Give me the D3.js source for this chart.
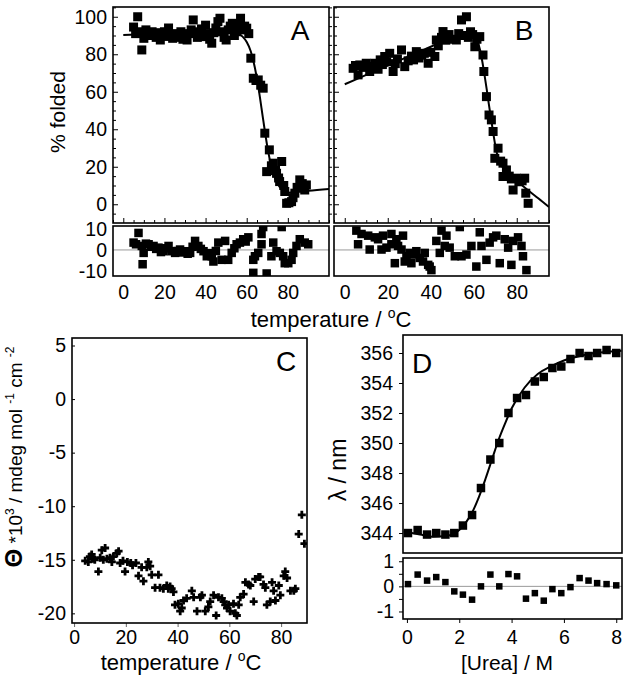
<!DOCTYPE html>
<html><head><meta charset="utf-8">
<script src="https://cdn.jsdelivr.net/npm/d3@7"></script>
<style>
body{margin:0;background:#fff}
</style></head><body>
<svg id="c" width="629" height="688"></svg>
<script>
// ---------- DATA ----------
// Panel A: % folded vs temperature
const aT = [5,6,7,8,9,10,11,12,13,14,15,16,17,18,19,20,21,22,23,24,25,26,27,28,29,30,31,32,33,34,35,36,37,38,39,40,41,42,43,44,45,46,47,48,49,50,51,52,53,54,55,56,57,58,59,60,61,62,63.2,64.5,65.6,66.8,68,68.8,69.7,71,72,72.9,74,74.5,75.5,76,77,78,78.5,79.4,80.5,81.8,82.5,83.4,84.5,85.8,87,88.2,89];
const aY = [94.5,91,100,92,82.3,88.5,93,91,90,92,90.5,89,91.5,87.6,90,92,89.5,94,90,88.5,91,89,90.5,92,88,89.5,87.6,91,93,98.3,92,89,90.5,93.5,89.4,95.5,91,88,85.9,91.5,94,97.4,99.2,92,89,87.6,93,95,96.5,90,92,96,99.2,93,95,93.9,91,77.9,67.2,66,66.3,63.5,61.9,37.9,17.4,29,20.5,21.9,18,16.5,14,12.1,22.8,10,6.8,0.5,0.8,1.4,3.5,5.9,9,13,11,7.6,10.3];
const aFitT = [0,20,40,50,55,58,60,62,64,66,68,70,72,74,76,78,80,85,90,100];
const aFitY = [90.3,91.1,91.9,92.1,91.3,89.4,86.5,81.5,72.7,60.1,45.1,30.9,20,13.1,9.2,7.3,6.2,6.6,7.2,8.2];
const aResT = [5,6.2,7.4,9,9.4,9.9,11,12.3,13.5,14.7,16,17.1,18.3,19.6,20.8,22,23.6,25.2,26.4,27.6,28.8,30,31.3,32.5,33.7,34.9,36.5,37.7,39,40.6,42,43,43.8,45,46.2,47.8,49.5,51,52.7,54,55.1,56.7,58.3,59.5,60.8,63.2,64,65.6,67.2,67.2,68,63.2,69.7,72,72.9,74.5,76.1,77,77.7,78.5,80.2,81.8,82.6,84.2,85.8,88.2,89.9];
const aRes  = [3.5,2.7,8.1,1.9,-6.8,-1.4,3,2.7,1.5,1.9,0.5,1.1,-1,-0.6,0.8,1.9,-0.6,-1.4,-0.5,0.2,-1.2,-0.6,-1.8,-1.4,1.5,4.3,1.9,0.5,-0.6,-3,-1.5,-3,-5.5,-0.5,3.5,-4.7,4.3,-4.7,-1.4,0.8,2.7,3.5,5.1,4,6,-4.7,-3,-1.4,2.7,7.6,10.9,-10.9,-11.2,-3,3.5,-0.6,-1.4,10.9,-3,-6.3,-6.3,-4.7,-1.4,1.9,5.1,3.5,2.7];

// Panel B
const bT = [3.9,5,6.2,7,8.5,10,11.6,13,14,15.5,16.5,17.5,18.6,19.5,20.9,22.5,23.5,24.5,26.4,27.9,29.5,31,32,33.3,34.5,35.8,37,38.8,40,41.9,42.6,43.5,45,45.7,47,48.5,50,51.9,53,54.3,55.5,56.6,57.5,58.5,59.5,60.5,61.5,62.8,64.3,64.7,65.9,67.1,68.2,69,69.8,71.3,72.5,73.6,73.6,75.2,76.5,77.5,78.3,79.8,81,82.5,83.7,84.2,85.3];
const bY = [72.5,74,69,74.3,73,75.2,70.8,73.5,75.2,72,77,74.5,78.8,76,80.5,70.8,75,77.5,82.3,73.4,76.5,79,77,81.4,78,79.5,80.5,75.2,81,78.8,87.6,84.5,89,92.1,87.5,90.5,88,87.6,91,98.3,90,100,89,92,90.5,84,88,89.4,79.6,70.8,57.4,47.6,45,38.8,24.5,29.9,23,21.9,14.8,18.3,15,13.5,7.6,13.9,12,12.5,13.9,5.9,0.5];
const bFitT = [0,10,20,30,40,50,55,58,60,61.5,63,64,65,66,67,68,69,70,71,72,73,75,78,80,83,86,90,95];
const bFitY = [64,69,74,79,84,89,91.2,91.6,90.5,87.5,82,76,69,61.5,53.5,46,38.5,31.5,26,22.5,20.5,18.5,15,12.8,9.6,6.8,3.2,-1.5];
const bResT = [5.4,6.2,7.8,10.9,11.6,14,15.5,17.1,17.8,19.4,21.7,21.7,23.3,24,24.8,26.4,27.1,27.9,28.7,30.2,31,31.8,33.3,34.9,36.4,37.2,38.8,39.5,40.3,42.6,44.2,45,46.5,47.3,48.8,51.2,53.5,54.3,56.6,58.9,61.2,62.8,63.6,65.9,67.4,69,70.5,72.1,74.4,76,77.5,78.3,80.6,82.2,82.9,84.5];
const bRes  = [9.2,2.7,7.6,6.8,0.2,6,5.1,0.2,6.8,1.1,7.6,2.7,-6.3,5.1,1.9,0.2,6.8,-5.5,-3,-1.4,-6.3,-2.2,-0.6,-3.8,-5.5,-1.4,-7.1,-7.9,-9.6,4.3,-1.4,9.2,1.9,6.8,1.1,-3,10.9,-3,-2.2,1.9,-7.9,8.4,1.9,-4.7,3.5,6,6.8,-6.3,5.1,1.1,-7.1,4.3,6,1.9,-3,-9.6];

// Panel C: ellipticity vs temperature
const cT = [4.3,5.5,6.1,6.8,7.4,8,9.4,10.1,10.7,11.3,12,12.7,13.9,14.6,15.2,16.5,17.2,17.8,18.9,19.7,20.6,21.9,22.6,23.9,24.9,26.1,26.8,28.1,28.7,29.4,30,31.3,32.6,33.2,34.5,35.8,36.4,37.1,37.7,38.4,39,40.3,41,41.6,42.3,43.5,45.5,46.2,47.5,48.8,49.4,50.7,51.9,52.6,53.9,54.9,55.8,57.1,57.8,58.4,59.1,59.7,60.3,61.6,62.3,62.9,63.6,64.2,65.5,66.2,67.4,68.1,69.4,70,71.3,71.9,73.2,73.9,74.5,75.8,76.5,77.1,77.8,79.1,79.7,81,81.6,82.3,83.6,84.9,85.5,86.8,88,89];
const cV = [-15.1,-15.2,-14.7,-14.5,-14.9,-15,-16.1,-14.8,-14.1,-15,-13.9,-14.9,-14.8,-15.2,-14.7,-14.4,-14.2,-15.3,-15.1,-16.1,-15.2,-15.3,-15.5,-15.3,-16.5,-15.7,-17,-15.7,-15.2,-15.6,-16.4,-17.6,-16.4,-17.6,-17.7,-17.4,-17.7,-17.5,-17.7,-18,-19.2,-19.1,-19.8,-19.5,-18.8,-18.6,-17.9,-18.5,-19.8,-18.5,-18.3,-19.8,-19.4,-18.9,-18.3,-20.2,-18.5,-18.6,-18.9,-19.2,-19.5,-19.2,-19.8,-19.1,-20,-20.2,-19.2,-18.5,-18.2,-17.1,-17.3,-17.4,-18.9,-16.8,-16.6,-16.6,-17.3,-17.6,-19.2,-18.9,-17.1,-17.9,-18.8,-17.4,-18.3,-16.5,-16.1,-16.7,-17.9,-17.9,-17.7,-12.6,-10.8,-13.5];

// Panel D: emission maximum vs urea
const dU = [0.04,0.41,0.77,1.12,1.47,1.81,2.14,2.49,2.83,3.19,3.53,3.88,4.21,4.55,4.89,5.23,5.56,5.9,6.25,6.6,6.94,7.27,7.63,8.0];
const dL = [344.0,344.2,343.9,344.0,343.9,344.0,344.5,345.2,347.0,348.9,350.0,352.0,353.0,353.2,354.1,354.4,355.0,355.1,355.6,356.0,355.8,356.0,356.2,356.0];
const dRes = [0.09,0.47,0.23,0.37,0.17,-0.2,-0.33,-0.53,0.0,0.47,0.0,0.49,0.4,-0.49,-0.27,-0.57,-0.11,-0.27,-0.03,0.33,0.23,0.13,0.09,0.04];
const dFitU = [-0.12,0.5,1,1.5,2,2.25,2.5,2.75,3,3.25,3.5,3.75,4,4.5,5,5.5,6,6.5,7,7.5,8.2];
const dFitL = [344.1,343.9,343.75,343.8,344.2,344.7,345.4,346.4,347.6,348.9,350.2,351.3,352.3,353.7,354.6,355.1,355.5,355.75,355.95,356.05,356.15];

// tick label sets
const tickTempAB = [0,20,40,60,80];
const tickPct = [0,20,40,60,80,100];
const tickResAB = [-10,0,10];
const tickTempC = [0,20,40,60,80];
const tickThetaC = [5,0,-5,-10,-15,-20];
const tickUrea = [0,2,4,6,8];
const tickLambda = [344,346,348,350,352,354,356];
const tickResD = [-1,0,1];

// ---------- DRAWING ----------
const FONT = '"Liberation Sans", Arial, Helvetica, sans-serif';
const FS = 19.5;
const svg = d3.select("#c");
const defs = svg.append("defs");
let clipN = 0;

function frame(x0, y0, x1, y1) {
  const id = "clip" + (clipN++);
  defs.append("clipPath").attr("id", id).append("rect")
    .attr("x", x0).attr("y", y0).attr("width", x1 - x0).attr("height", y1 - y0);
  return { id, draw: () => svg.append("rect").attr("x", x0).attr("y", y0)
    .attr("width", x1 - x0).attr("height", y1 - y0)
    .attr("fill", "none").attr("stroke", "#000").attr("stroke-width", 1.6) };
}

function ax(orient, scale, tx, ty, vals, size, labels, pad, color) {
  const gen = { left: d3.axisLeft, right: d3.axisRight, bottom: d3.axisBottom, top: d3.axisTop }[orient](scale)
    .tickValues(vals).tickSizeInner(size).tickSizeOuter(0).tickPadding(pad || 0)
    .tickFormat(labels ? (d => String(d)) : (() => ""));
  const g = svg.append("g").attr("transform", `translate(${tx},${ty})`).call(gen);
  g.select(".domain").remove();
  g.selectAll("line").attr("stroke", color || "#000").attr("stroke-width", 1);
  g.selectAll("text").attr("font-size", FS).attr("font-family", FONT).attr("fill", "#000");
  return g;
}

function squares(xs, ys, X, Y, s, clip) {
  svg.append("g").attr("clip-path", `url(#${clip})`)
    .selectAll("rect").data(d3.range(X.length)).join("rect")
    .attr("x", i => xs(X[i]) - s / 2).attr("y", i => ys(Y[i]) - s / 2)
    .attr("width", s).attr("height", s).attr("fill", "#000");
}

function fit(xs, ys, X, Y, clip) {
  const ln = d3.line().x(i => xs(X[i])).y(i => ys(Y[i])).curve(d3.curveMonotoneX);
  svg.append("path").attr("clip-path", `url(#${clip})`).attr("d", ln(d3.range(X.length)))
    .attr("fill", "none").attr("stroke", "#000").attr("stroke-width", 2);
}

function zero(xs, ys) {
  svg.append("line").attr("x1", xs.range()[0]).attr("x2", xs.range()[1])
    .attr("y1", ys(0)).attr("y2", ys(0)).attr("stroke", "#999").attr("stroke-width", 1);
}

function text(x, y, str, fs, anchor, rot) {
  const t = svg.append("text").attr("x", x).attr("y", y).attr("font-size", fs)
    .attr("font-family", FONT).attr("text-anchor", anchor || "middle").attr("fill", "#000").text(str);
  if (rot) t.attr("transform", `rotate(${rot},${x},${y})`);
  return t;
}

const minor = (a, b, step, skip) => d3.range(a, b + 0.001, step).filter(v => !skip.includes(v));

// ===== Panel A =====
const xA = d3.scaleLinear([-5, 100], [113, 329]);
const yA = d3.scaleLinear([-10, 105.2], [223, 7]);
const fA = frame(113, 7, 329, 223);
ax("left", yA, 113, 0, tickPct, -5, true, 6);
ax("left", yA, 113, 0, minor(-5, 105, 5, tickPct), -3, false);
ax("right", yA, 329, 0, minor(-5, 105, 5, []), 3, false);
ax("bottom", xA, 0, 223, tickTempAB, -5, false);
ax("bottom", xA, 0, 223, minor(-5, 100, 5, tickTempAB), -3, false);
fit(xA, yA, aFitT, aFitY, fA.id);
squares(xA, yA, aT, aY, 9, fA.id);
fA.draw();
text(300, 40, "A", 28);

// residual A
const yRA = d3.scaleLinear([-12.4, 11.4], [276, 226]);
const fRA = frame(113, 226, 329, 276);
zero(xA, yRA);
ax("left", yRA, 113, 0, tickResAB, 0, true, 6);
ax("bottom", xA, 0, 276, tickTempAB, 0, true, 9);
squares(xA, yRA, aResT, aRes, 8.5, fRA.id);
fRA.draw();

// ===== Panel B =====
const xB = d3.scaleLinear([-5, 95], [334, 549]);
const yB = d3.scaleLinear([-10, 105.2], [223, 7]);
const fB = frame(334, 7, 549, 223);
ax("left", yB, 334, 0, tickPct, -5, false);
ax("left", yB, 334, 0, minor(-5, 105, 5, tickPct), -3, false);
ax("bottom", xB, 0, 223, tickTempAB, -5, false);
ax("bottom", xB, 0, 223, minor(-5, 95, 5, tickTempAB), -3, false);
fit(xB, yB, bFitT, bFitY, fB.id);
squares(xB, yB, bT, bY, 9, fB.id);
fB.draw();
text(524, 40, "B", 28);

const yRB = d3.scaleLinear([-12.4, 11.4], [276, 226]);
const fRB = frame(334, 226, 549, 276);
zero(xB, yRB);
ax("bottom", xB, 0, 276, tickTempAB, 0, true, 9);
squares(xB, yRB, bResT, bRes, 8.5, fRB.id);
fRB.draw();

text(65, 112, "% folded", 21, "middle", -90);
const tAB = text(331, 327, "temperature / ", 22);
tAB.append("tspan").attr("dy", -9).attr("font-size", 14).text("o");
tAB.append("tspan").attr("dy", 9).text("C");

// ===== Panel C =====
const xC = d3.scaleLinear([-0.8, 90], [72, 307]);
const yC = d3.scaleLinear([-20.9, 5.7], [623, 338]);
const fC = frame(72, 338, 307, 623);
ax("left", yC, 72, 0, tickThetaC, -3, true, 6);
ax("bottom", xC, 0, 623, tickTempC, 4, true, 3, "#666");
svg.append("g").attr("clip-path", `url(#${fC.id})`)
  .selectAll("path").data(d3.range(cT.length)).join("path")
  .attr("d", i => { const x = xC(cT[i]), y = yC(cV[i]); return `M${x - 4},${y}h8M${x},${y - 4}v8`; })
  .attr("stroke", "#000").attr("stroke-width", 2.8).attr("fill", "none");
fC.draw();
text(286, 371, "C", 28);
const tC = text(181, 670, "temperature / ", 22);
tC.append("tspan").attr("dy", -9).attr("font-size", 14).text("o");
tC.append("tspan").attr("dy", 9).text("C");
const yl = svg.append("text").attr("x", 22).attr("y", 457).attr("font-size", 19)
  .attr("font-family", FONT).attr("text-anchor", "middle").attr("fill", "#000")
  .attr("transform", "rotate(-90,22,457)");
yl.append("tspan").attr("font-size", 24).attr("font-weight", "bold").text("Θ");
yl.append("tspan").text(" *10");
yl.append("tspan").attr("dy", -8).attr("font-size", 12).text("3");
yl.append("tspan").attr("dy", 8).text(" / mdeg mol ");
yl.append("tspan").attr("dy", -8).attr("font-size", 12).text("-1");
yl.append("tspan").attr("dy", 8).text(" cm ");
yl.append("tspan").attr("dy", -8).attr("font-size", 12).text("-2");

// ===== Panel D =====
const xD = d3.scaleLinear([-0.15, 8.22], [403, 622]);
const yD = d3.scaleLinear([342.67, 357.2], [553, 335]);
const fD = frame(403, 335, 622, 553);
ax("left", yD, 403, 0, tickLambda, 4, true, 6);
fit(xD, yD, dFitU, dFitL, fD.id);
squares(xD, yD, dU, dL, 8.5, fD.id);
fD.draw();
text(422, 373, "D", 28);

const yRD = d3.scaleLinear([-1.3, 1.13], [619, 558]);
const fRD = frame(403, 558, 622, 619);
zero(xD, yRD);
ax("left", yRD, 403, 0, tickResD, 4, true, 5);
ax("left", yRD, 403, 0, [-0.5, 0.5], 4, false);
ax("bottom", xD, 0, 619, tickUrea, 4, true, 7);
squares(xD, yRD, dU, dRes, 6.5, fRD.id);
fRD.draw();
text(507, 670, "[Urea] / M", 21);
text(346, 470, "λ / nm", 23, "middle", -90);
</script>
</body></html>
